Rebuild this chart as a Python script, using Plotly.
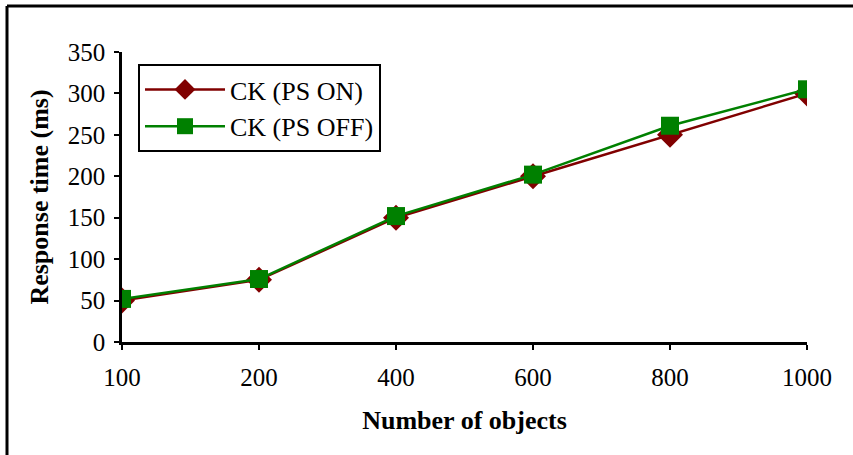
import plotly.graph_objects as go

objects = ["100", "200", "400", "600", "800", "1000"]
ps_on = [50, 75, 150, 200, 250, 300]
ps_off = [52, 76, 152, 202, 261, 305]

FONT = "Liberation Serif, Times New Roman, serif"
W, H = 853, 455
L, R, T, B = 122, 46, 52, 113
pw, ph = W - L - R, H - T - B

fig = go.Figure()
fig.add_trace(go.Scatter(
    x=objects, y=ps_on, name="CK (PS ON)", mode="lines+markers",
    line=dict(color="#800000", width=2.5),
    marker=dict(symbol="diamond", size=20, color="#800000"),
))
fig.add_trace(go.Scatter(
    x=objects, y=ps_off, name="CK (PS OFF)", mode="lines+markers",
    line=dict(color="#008000", width=2.5),
    marker=dict(symbol="square", size=18, color="#008000"),
))

# chart frame: only top and left edges are visible in the crop
fx = (7 - L) / pw
fy = (H - B - 6) / ph
fig.add_shape(type="line", xref="paper", yref="paper", x0=fx, x1=1.2, y0=fy, y1=fy,
              line=dict(color="black", width=3))
fig.add_shape(type="line", xref="paper", yref="paper", x0=fx, x1=fx, y0=fy, y1=-0.5,
              line=dict(color="black", width=3))

fig.update_layout(
    width=W, height=H,
    margin=dict(l=L, r=R, t=T, b=B),
    plot_bgcolor="white", paper_bgcolor="white",
    font=dict(family=FONT, size=25, color="black"),
    showlegend=True,
    legend=dict(
        x=(138 - L) / pw, y=(H - B - 64) / ph, xanchor="left", yanchor="top",
        bordercolor="black", borderwidth=2, bgcolor="white",
        font=dict(family=FONT, size=26, color="black"), itemwidth=80,
    ),
)
fig.update_xaxes(
    type="category", range=[0, 5], showgrid=False, zeroline=False,
    showline=True, linecolor="black", linewidth=2.5,
    ticks="outside", ticklen=5, tickwidth=2, tickcolor="black",
    tickfont=dict(family=FONT, size=25, color="black"), ticklabelstandoff=6,
    title=dict(text="<b>Number of objects</b>", standoff=22,
               font=dict(family=FONT, size=26, color="black")),
)
fig.update_yaxes(
    range=[0, 350], dtick=50, showgrid=False, zeroline=False,
    showline=True, linecolor="black", linewidth=2.5,
    ticks="outside", ticklen=5, tickwidth=2, tickcolor="black",
    tickfont=dict(family=FONT, size=25, color="black"), ticklabelstandoff=4,
    title=dict(text="<b>Response time (ms)</b>", standoff=12,
               font=dict(family=FONT, size=26, color="black")),
)

fig.write_html("out.html", config={"displayModeBar": False},
               post_script="document.body.style.margin='0px';")
